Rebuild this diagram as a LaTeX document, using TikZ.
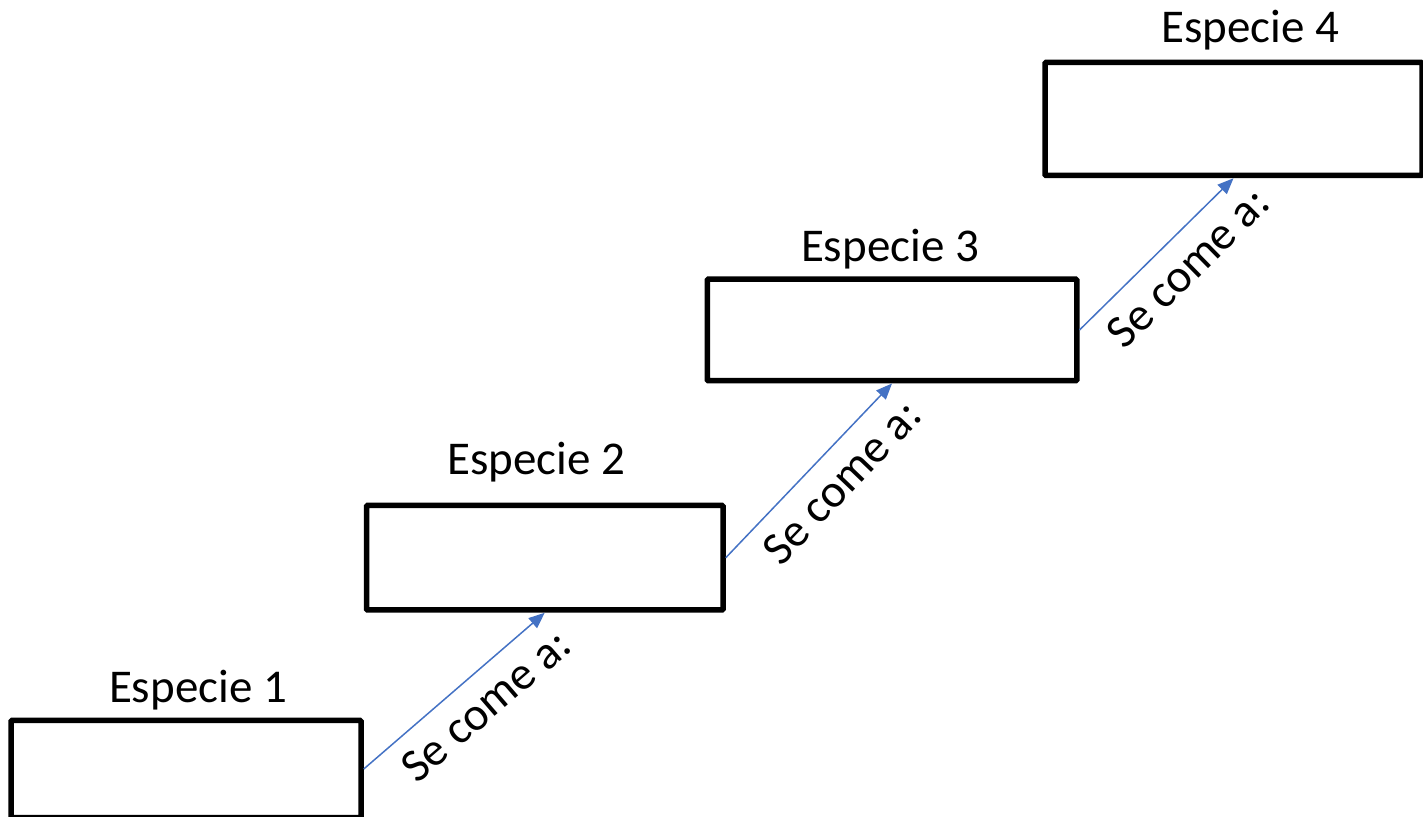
\documentclass[tikz,border=0pt]{standalone}
\usepackage{fontspec}
\setmainfont{Carlito}
\usetikzlibrary{arrows.meta}
\definecolor{eatblue}{HTML}{4472C4}
\tikzset{
  every species/.style={draw, rectangle, line width=5.5pt, rounded corners=1pt, fill=white},
  eats/.style={->, draw=eatblue, line width=1.5pt},
  big text/.style={font=\fontsize{47}{56}\selectfont}
}

\begin{document}
\begin{tikzpicture}[x=1pt, y=1pt, >={Triangle[length=16pt, width=13pt]}]
  \useasboundingbox (0,0) rectangle (1423,816);

  \foreach \m/\cx/\cy/\w/\h in {1/186/47/350/97, 2/544.75/258.25/356.5/104.5, 3/892/486/369.5/101.5, 4/1233.5/697/377/113}
    \node [every species, minimum width=\w pt, minimum height=\h pt] (species-\m) at (\cx,\cy) {};

  \foreach \m/\cx/\cy in {1/198/113, 2/536.5/341, 3/890/554, 4/1250/773}
    \node [big text, anchor=base] (name-\m) at (\cx,\cy) {Especie \m};

  \foreach \i/\j in {1/2, 2/3, 3/4}
    \draw [eats] (species-\i.east) -- (species-\j.south)
      node [big text, sloped, below=12pt, pos=0.56] (eats-\i) {Se come a:};

\end{tikzpicture}
\end{document}
